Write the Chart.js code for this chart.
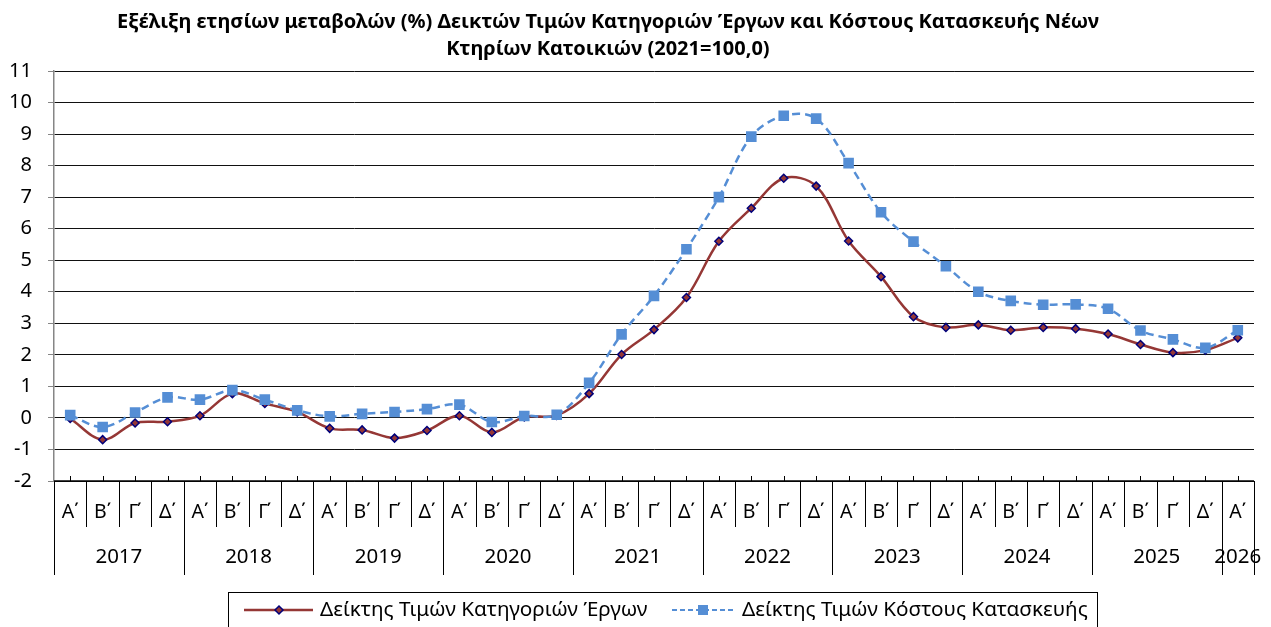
<!DOCTYPE html>
<html>
<head>
<meta charset="utf-8">
<script src="https://cdn.jsdelivr.net/npm/chart.js@4"></script>
<style>
  body { margin: 0; background: #fff; }
  canvas { display: block; }
</style>
</head>
<body>
<canvas id="chart" width="1271" height="627"></canvas>
<script>
// years and quarters of the two-level category axis
const years = ['2017', '2018', '2019', '2020', '2021', '2022', '2023', '2024', '2025', '2026'];
const quarters = ['Α΄', 'Β΄', 'Γ΄', 'Δ΄'];
const yTicks = [-2, -1, 0, 1, 2, 3, 4, 5, 6, 7, 8, 9, 10, 11];

// annual % change, 2017 Q1 .. 2026 Q1
const worksIndex = [
    -0.02, -0.69, -0.16, -0.12,
    0.07, 0.77, 0.46, 0.19,
    -0.33, -0.38, -0.64, -0.40,
    0.07, -0.46, 0.03, 0.08,
    0.77, 2.01, 2.80, 3.82,
    5.60, 6.65, 7.60, 7.35,
    5.61, 4.48, 3.21, 2.87,
    2.95, 2.78, 2.87, 2.83,
    2.66, 2.33, 2.07, 2.15,
    2.54
];
const costIndex = [
    0.09, -0.29, 0.17, 0.65,
    0.58, 0.88, 0.58, 0.24,
    0.05, 0.13, 0.19, 0.28,
    0.42, -0.13, 0.06, 0.10,
    1.11, 2.65, 3.87, 5.35,
    7.00, 8.92, 9.58, 9.49,
    8.08, 6.52, 5.59, 4.81,
    4.00, 3.71, 3.59, 3.60,
    3.46, 2.77, 2.49, 2.22,
    2.78
];

const titleLines = [
    'Εξέλιξη ετησίων μεταβολών (%) Δεικτών Τιμών Κατηγοριών Έργων και Κόστους Κατασκευής Νέων',
    'Κτηρίων Κατοικιών (2021=100,0)'
];
const seriesNames = ['Δείκτης Τιμών Κατηγοριών Έργων', 'Δείκτης Τιμών Κόστους Κατασκευής'];

// one label per quarter, the last year only has its first quarter
let labels = [];
for (let i = 0; i < worksIndex.length; i++) {
    labels.push(quarters[i % 4]);
}

const FONT = '"Noto Sans", "Open Sans", sans-serif';
const RED = '#953735';
const NAVY = '#00007a';
const BLUE = '#558ED5';

// draws the title, the two level x axis and the boxed legend
const excelBits = {
    id: 'excelBits',
    afterDraw(chart) {
        const ctx = chart.ctx;
        const area = chart.chartArea;
        const xs = chart.scales.x;
        const n = labels.length;
        const w = (area.right - area.left) / n;
        ctx.save();

        // title
        ctx.fillStyle = '#000';
        ctx.font = 'bold 20px ' + FONT;
        ctx.textAlign = 'center';
        ctx.textBaseline = 'middle';
        ctx.fillText(titleLines[0], 608, 22);
        ctx.fillText(titleLines[1], 608, 49);

        // x axis line
        ctx.strokeStyle = '#000';
        ctx.lineWidth = 1.5;
        ctx.beginPath();
        ctx.moveTo(area.left, area.bottom);
        ctx.lineTo(area.right, area.bottom);
        ctx.stroke();

        // small ticks at the points, separators below
        ctx.lineWidth = 1;
        ctx.beginPath();
        for (let i = 0; i < n; i++) {
            const cx = Math.round(xs.getPixelForValue(i)) + 0.5;
            ctx.moveTo(cx, area.bottom - 5);
            ctx.lineTo(cx, area.bottom);
        }
        for (let i = 0; i <= n; i++) {
            const bx = Math.round(area.left + i * w) + 0.5;
            const long = (i % 4 === 0) || i === n;
            ctx.moveTo(bx, area.bottom);
            ctx.lineTo(bx, long ? 575 : 527);
        }
        ctx.stroke();

        ctx.font = '19.5px ' + FONT;
        for (let i = 0; i < n; i++) {
            ctx.fillText(labels[i], xs.getPixelForValue(i), 512);
        }
        ctx.font = '20.5px ' + FONT;
        years.forEach((yr, k) => {
            const first = k * 4;
            const last = Math.min(first + 3, n - 1);
            const cx = (xs.getPixelForValue(first) + xs.getPixelForValue(last)) / 2;
            ctx.fillText(yr, cx, 557);
        });

        // legend box
        ctx.strokeStyle = '#000';
        ctx.lineWidth = 1;
        ctx.strokeRect(228.5, 592.5, 869, 40);

        ctx.textAlign = 'left';
        ctx.font = '20.7px ' + FONT;
        // red item
        ctx.strokeStyle = RED;
        ctx.lineWidth = 2.5;
        ctx.beginPath();
        ctx.moveTo(244, 610);
        ctx.lineTo(313, 610);
        ctx.stroke();
        ctx.fillStyle = RED;
        ctx.strokeStyle = NAVY;
        ctx.lineWidth = 1.5;
        ctx.beginPath();
        ctx.moveTo(279, 606);
        ctx.lineTo(283, 610);
        ctx.lineTo(279, 614);
        ctx.lineTo(275, 610);
        ctx.closePath();
        ctx.fill();
        ctx.stroke();
        ctx.fillStyle = '#000';
        ctx.fillText(seriesNames[0], 320, 610);

        // blue item
        ctx.strokeStyle = BLUE;
        ctx.lineWidth = 2;
        ctx.setLineDash([5, 3]);
        ctx.beginPath();
        ctx.moveTo(672, 610);
        ctx.lineTo(736, 610);
        ctx.stroke();
        ctx.setLineDash([]);
        ctx.fillStyle = BLUE;
        ctx.fillRect(698, 605, 10, 10);
        ctx.fillStyle = '#000';
        ctx.fillText(seriesNames[1], 742, 610);

        ctx.restore();
    }
};

const ctx = document.getElementById('chart');
const chart = new Chart(ctx, {
    type: 'line',
    data: {
        labels: labels,
        datasets: [
            {
                label: seriesNames[0],
                data: worksIndex,
                borderColor: RED,
                borderWidth: 2.5,
                tension: 0.35,
                pointStyle: 'rectRot',
                pointRadius: 4,
                pointBackgroundColor: RED,
                pointBorderColor: NAVY,
                pointBorderWidth: 1.5,
                order: 1
            },
            {
                label: seriesNames[1],
                data: costIndex,
                borderColor: BLUE,
                borderWidth: 2.5,
                borderDash: [8, 5],
                tension: 0.35,
                pointStyle: 'rect',
                pointRadius: 7.5,
                pointBackgroundColor: BLUE,
                pointBorderColor: BLUE,
                pointBorderWidth: 0,
                order: 0
            }
        ]
    },
    options: {
        responsive: false,
        animation: false,
        devicePixelRatio: 1,
        layout: { padding: { top: 71, right: 17, left: 0, bottom: 0 } },
        plugins: {
            legend: { display: false },
            title: { display: false },
            tooltip: { enabled: false }
        },
        scales: {
            x: {
                type: 'category',
                offset: true,
                grid: { display: false },
                border: { display: false },
                ticks: { display: false },
                afterFit: (scale) => { scale.height = 146; }
            },
            y: {
                min: -2,
                max: 11,
                afterBuildTicks: (scale) => { scale.ticks = yTicks.map(v => ({ value: v })); },
                ticks: {
                    color: '#000',
                    font: { family: FONT, size: 20 },
                    padding: 16
                },
                grid: {
                    color: '#111',
                    lineWidth: 1,
                    tickLength: 6,
                    tickColor: '#868686'
                },
                border: { color: '#868686', width: 1.5 },
                afterFit: (scale) => { scale.width = 54; }
            }
        }
    },
    plugins: [excelBits]
});
</script>
</body>
</html>
